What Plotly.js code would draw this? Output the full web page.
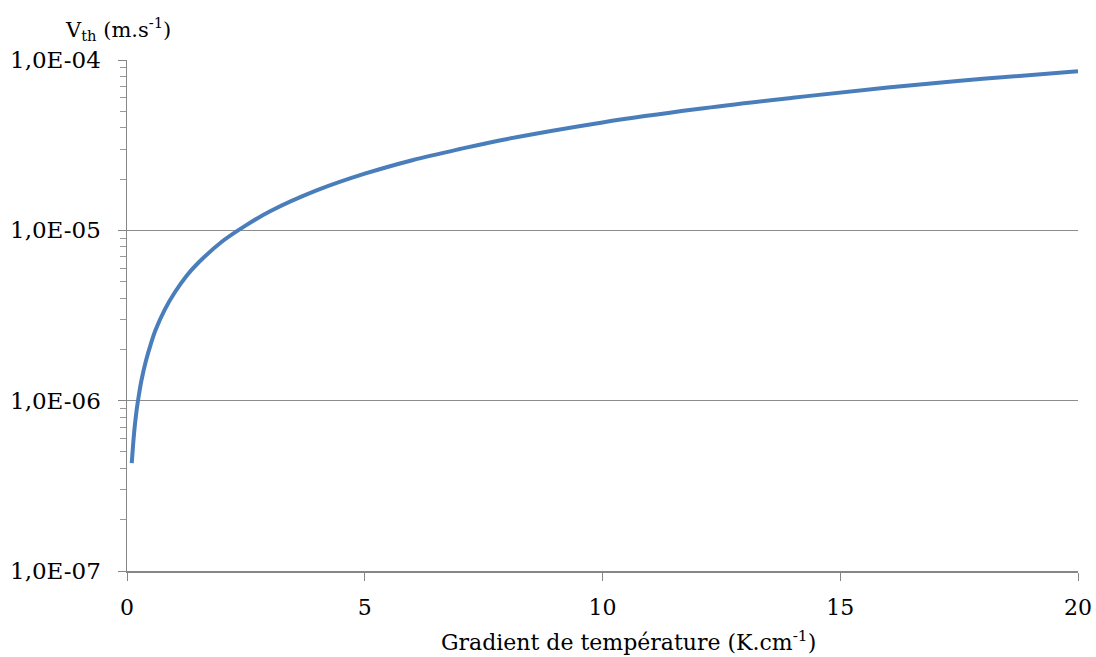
<!DOCTYPE html>
<html>
<head>
<meta charset="utf-8">
<script src="https://cdn.plot.ly/plotly-3.0.1.min.js"></script>
<style>html,body{margin:0;padding:0;background:#fff;}#chart{width:1096px;height:657px;}</style>
</head>
<body>
<div id="chart"></div>
<script>
// Values
const gradient = [0.1, 0.15, 0.2, 0.25, 0.3, 0.4, 0.5, 0.6, 0.8, 1, 1.25, 1.5, 2, 2.5, 3, 4, 5, 6, 7, 8, 10, 12, 14, 16, 18, 20];
const vth = [4.3e-7, 6.5e-7, 8.7e-7, 1.08e-6, 1.3e-6, 1.72e-6, 2.15e-6, 2.6e-6, 3.45e-6, 4.3e-6, 5.4e-6, 6.45e-6, 8.6e-6, 1.07e-5, 1.29e-5, 1.72e-5, 2.15e-5, 2.58e-5, 3.0e-5, 3.44e-5, 4.3e-5, 5.15e-5, 6.0e-5, 6.9e-5, 7.75e-5, 8.6e-5];
const yTickVals = [1e-7, 1e-6, 1e-5, 1e-4];
const yTickText = ["1,0E-07", "1,0E-06", "1,0E-05", "1,0E-04"];
const xTickVals = [0, 5, 10, 15, 20];
const yTitle = "V<sub>th</sub> (m.s<sup>-1</sup>)";
const xTitle = "Gradient de température (K.cm<sup>-1</sup>)";

const font = "DejaVu Serif, Liberation Serif, serif";
const trace = {
  x: gradient, y: vth, type: "scatter", mode: "lines",
  line: {color: "#4a7ebb", width: 4, shape: "spline"},
  hoverinfo: "skip"
};
const layout = {
  width: 1096, height: 657,
  margin: {l: 127, r: 18, t: 60, b: 86},
  paper_bgcolor: "#fff", plot_bgcolor: "#fff",
  showlegend: false,
  font: {family: font, color: "#000", size: 22},
  xaxis: {
    range: [0, 20], tickvals: xTickVals, ticks: "outside", ticklen: 8,
    tickcolor: "#868686", tickwidth: 1, showgrid: false, zeroline: false,
    showline: true, linecolor: "#868686", linewidth: 1.5, ticklabelstandoff: 8,
    tickfont: {family: font, size: 22, color: "#000"}
  },
  yaxis: {
    type: "log", range: [-7, -4], tickvals: yTickVals, ticktext: yTickText,
    ticks: "outside", ticklen: 8, tickcolor: "#868686", tickwidth: 1,
    showgrid: true, gridcolor: "#8c8c8c", gridwidth: 1.3, ticklabelstandoff: 12,
    showline: true, linecolor: "#868686", linewidth: 1.5, zeroline: false,
    tickfont: {family: font, size: 23, color: "#000"},
    minor: {ticks: "outside", ticklen: 6, tickcolor: "#9a9a9a", dtick: "D1", showgrid: false}
  },
  annotations: [
    {text: yTitle, xref: "paper", yref: "paper", x: -0.009, y: 1.0, xanchor: "center", yanchor: "bottom", yshift: 14,
     showarrow: false, font: {family: font, size: 21, color: "#000"}},
    {text: xTitle, xref: "paper", yref: "paper", x: 0.527, y: 0, xanchor: "center", yanchor: "top", yshift: -54,
     showarrow: false, font: {family: font, size: 22, color: "#000"}}
  ]
};
Plotly.newPlot("chart", [trace], layout, {displayModeBar: false, staticPlot: true});
</script>
</body>
</html>
